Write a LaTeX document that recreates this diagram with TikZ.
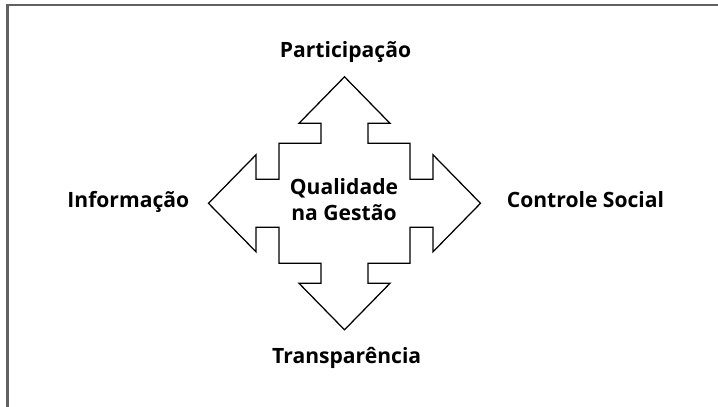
\documentclass[tikz,border=0pt]{standalone}
\usepackage{fontspec}
\setmainfont{Open Sans}
\usepackage{tikz}
\usetikzlibrary{positioning}

\tikzset{
  rotulo/.style={font=\fontsize{15}{18.5}\selectfont\bfseries, inner sep=0pt, anchor=base},
  moldura/.style={draw=black!62, line width=1.5pt},
  seta/.style={draw=black, line width=0.9pt, line join=miter, fill=white}
}

\begin{document}
\begin{tikzpicture}[x=0.025cm, y=-0.025cm]
  \useasboundingbox (0,0) rectangle (718,407);
  % moldura
  \draw [moldura] (718,5) -- (7.5,5) -- (7.5,407);
  % seta de quatro pontas
  \coordinate (c) at (344.5,203.3);
  \draw [seta, shift={(c)}]
    (0,-126.5) -- (45.5,-80) -- (23.6,-80) -- (23.6,-60) -- (65.5,-60)
    -- (65.5,-24) -- (88.5,-24) -- (88.5,-48.5) -- (136,0) -- (88.5,48.5)
    -- (88.5,24) -- (65.5,24) -- (65.5,60) -- (23.6,60) -- (23.6,80)
    -- (45.5,80) -- (0,126.5) -- (-45.5,80) -- (-23.6,80) -- (-23.6,60)
    -- (-65.5,60) -- (-65.5,24) -- (-88.5,24) -- (-88.5,48.5) -- (-136,0)
    -- (-88.5,-48.5) -- (-88.5,-24) -- (-65.5,-24) -- (-65.5,-60)
    -- (-23.6,-60) -- (-23.6,-80) -- (-45.5,-80) -- cycle;
  % rotulos
  \node [rotulo, align=center, anchor=center] (qual) at (344,200) {Qualidade\\na Gestão};
  \node [rotulo] (part) at (345.5,57.3) {Participação};
  \node [rotulo] (info) at (128.3,207.3) {Informação};
  \node [rotulo] (ctrl) at (585.5,207.3) {Controle Social};
  \node [rotulo] (transp) at (346.7,363.3) {Transparência};
\end{tikzpicture}
\end{document}
